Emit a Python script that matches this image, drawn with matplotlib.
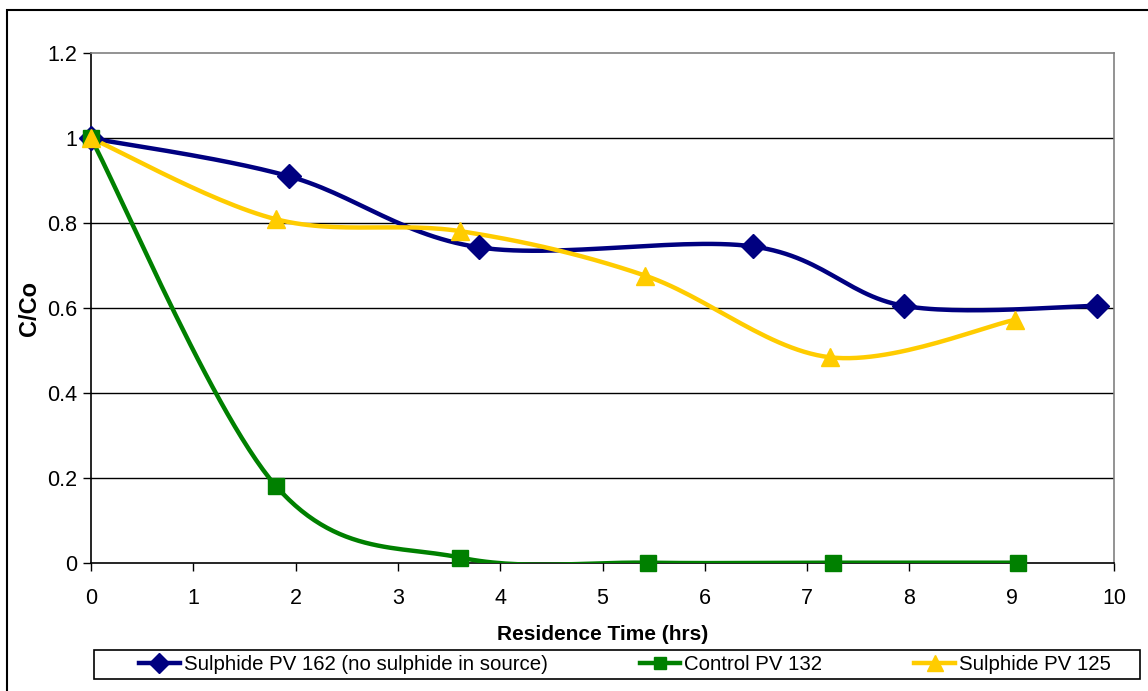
import numpy as np
import matplotlib.pyplot as plt
from matplotlib.patches import Rectangle
from matplotlib.lines import Line2D

plt.rcParams['font.family'] = ['Liberation Sans', 'DejaVu Sans']

#Residence time (hrs) and C/Co for each run
t_s162 = [0.0, 1.94, 3.79, 6.47, 7.95, 9.83]
c_s162 = [1.0, 0.91, 0.743, 0.745, 0.605, 0.605]
t_ctl = [0.0, 1.81, 3.61, 5.44, 7.25, 9.06]
c_ctl = [1.0, 0.18, 0.012, 0.0, 0.0, 0.0]
t_s125 = [0.0, 1.81, 3.61, 5.42, 7.22, 9.03]
c_s125 = [1.0, 0.809, 0.781, 0.676, 0.484, 0.572]

labels = ['Sulphide PV 162 (no sulphide in source)', 'Control PV 132', 'Sulphide PV 125']
colors = ['#000080', '#008000', '#FFCC00']
markers = ['D', 's', '^']
msizes = [12, 11, 13]

def smooth(x, y, n=30):
 #spreadsheet style bezier smoothing through the points
 p = np.column_stack([x, y]).astype(float)
 out = [p[0]]
 for i in range(len(p)-1):
  p0 = p[i-1] if i > 0 else p[i]
  p3 = p[i+2] if i+2 < len(p) else p[i+1]
  c1 = p[i] + (p[i+1]-p0)/6.0
  c2 = p[i+1] - (p3-p[i])/6.0
  s = np.linspace(0, 1, n)[1:, None]
  b = (1-s)**3*p[i] + 3*(1-s)**2*s*c1 + 3*(1-s)*s**2*c2 + s**3*p[i+1]
  out.extend(b)
 out = np.array(out)
 return out[:, 0], out[:, 1]

fig = plt.figure(figsize=(11.48, 6.91), dpi=100)
ax = fig.add_axes([91/1148, 1-562.7/691, (1114-91)/1148, (562.7-53.3)/691])

series = [(t_s162, c_s162), (t_ctl, c_ctl), (t_s125, c_s125)]
for (x, y), col, mk, ms in zip(series, colors, markers, msizes):
 xs, ys = smooth(x, y)
 ax.plot(xs, ys, color=col, lw=3.2, zorder=3, solid_capstyle='round')
 ax.plot(x, y, ls='none', marker=mk, color=col, ms=ms, zorder=4, clip_on=False)

ax.set_xlim(0, 10)
ax.set_ylim(0, 1.2)
ax.set_xticks(np.arange(0, 11, 1))
ax.set_yticks(np.arange(0, 1.21, 0.2))
ax.set_yticklabels(['0', '0.2', '0.4', '0.6', '0.8', '1', '1.2'])
for yv in [0.2, 0.4, 0.6, 0.8, 1.0]:
 ax.axhline(yv, color='black', lw=1, zorder=1)
ax.spines['top'].set_color('#808080')
ax.spines['right'].set_color('#808080')
ax.spines['left'].set_color('black')
ax.spines['bottom'].set_color('black')
for sp in ax.spines.values():
 sp.set_linewidth(1.2)
ax.tick_params(direction='out', length=6, width=1, labelsize=15.5)
ax.tick_params(axis='x', pad=12)
ax.tick_params(axis='y', pad=4)
ax.set_xlabel('Residence Time (hrs)', fontsize=15, fontweight='bold', labelpad=12)
ax.set_ylabel('C/Co', fontsize=17, fontweight='bold', labelpad=4)

#legend box under the axes
fig.patches.append(Rectangle((94/1148, 1-679/691), (1140-94)/1148, 29/691, transform=fig.transFigure,
                             fill=False, edgecolor='black', lw=1.2))
#outer chart frame
fig.patches.append(Rectangle((7/1148, -0.01), 1.02, 1-10/691+0.01, transform=fig.transFigure,
                             fill=False, edgecolor='black', lw=1.5))
handles = [Line2D([], [], color=c, lw=3.2, marker=m, ms=s*0.85) for c, m, s in zip(colors, markers, msizes)]
fig.legend(handles, labels, loc='center', bbox_to_anchor=(625/1148, 1-664.5/691), ncol=3, frameon=False,
           fontsize=14.7, handlelength=2.0, handletextpad=0.2, columnspacing=4.5, borderpad=0)

fig.savefig('out.png', dpi=100)
